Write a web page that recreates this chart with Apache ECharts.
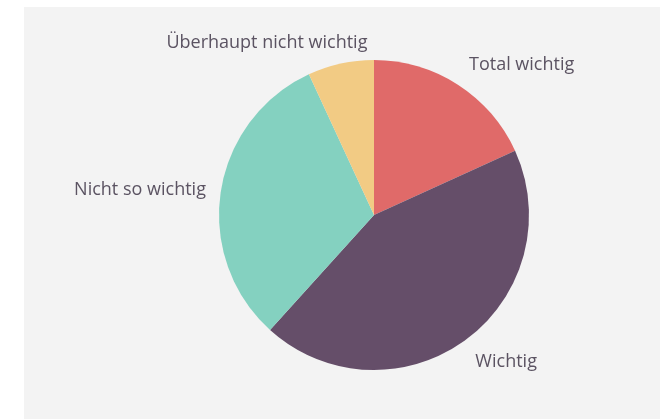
<!DOCTYPE html>
<html><head><meta charset="utf-8">
<script src="https://cdn.jsdelivr.net/npm/echarts@6/dist/echarts.min.js"></script>
<style>html,body{margin:0;padding:0;background:#fff;}#c{width:669px;height:419px;}</style>
</head><body><div id="c"></div>
<script>
const categories = ['Total wichtig', 'Wichtig', 'Nicht so wichtig', 'Überhaupt nicht wichtig'];
const values = [18.2, 43.5, 31.4, 6.9];
const colors = ['#e06a69', '#654e69', '#84d1c0', '#f2cb84'];

const chart = echarts.init(document.getElementById('c'));
const labelShift = {
  'Total wichtig': [-2, -7],
  'Wichtig': [-4, 10],
  'Nicht so wichtig': [5, 0],
  'Überhaupt nicht wichtig': [35, -6]
};
chart.setOption({
  animation: false,
  graphic: [{type: 'rect', shape: {x: 24, y: 7, width: 636, height: 412}, style: {fill: '#f3f3f3'}, z: -10}],
  series: [{
    type: 'pie',
    center: [374, 215],
    radius: 155,
    startAngle: 90,
    clockwise: true,
    avoidLabelOverlap: false,
    label: {show: true, position: 'outside', color: '#5b5362', fontFamily: 'Open Sans', fontSize: 18},
    labelLine: {show: false, length: 15, length2: 0},
    itemStyle: {borderWidth: 0},
    emphasis: {disabled: true},
    data: categories.map((n, i) => ({
      name: n, value: values[i],
      itemStyle: {color: colors[i]},
      label: {offset: labelShift[n]}
    }))
  }]
});
</script></body></html>
